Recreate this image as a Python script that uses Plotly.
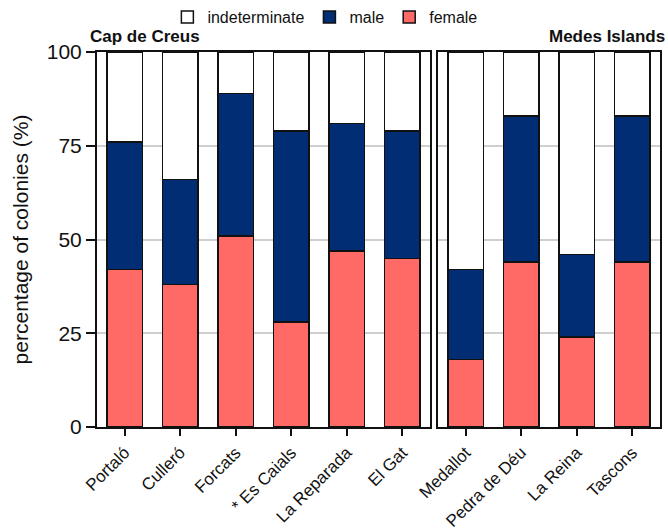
import plotly.graph_objects as go
from plotly.subplots import make_subplots

# Sites per area
cap_sites = ["Portaló", "Culleró", "Forcats", "* Es Caials", "La Reparada", "El Gat"]
medes_sites = ["Medallot", "Pedra de Déu", "La Reina", "Tascons"]

# Percentage of colonies by sex
cap_female = [42, 38, 51, 28, 47, 45]
cap_male = [34, 28, 38, 51, 34, 34]
cap_indet = [24, 34, 11, 21, 19, 21]

medes_female = [18, 44, 24, 44]
medes_male = [24, 39, 22, 39]
medes_indet = [58, 17, 54, 17]

y_ticks = [0, 25, 50, 75, 100]

FEMALE = "#FF6A66"
MALE = "#002D73"
INDET = "#FFFFFF"
FONT = "Liberation Sans, Arial, sans-serif"

fig = make_subplots(rows=1, cols=2, column_widths=[6, 4],
                    shared_yaxes=False, horizontal_spacing=0.014)

series = [
    ("female", FEMALE, cap_female, medes_female),
    ("male", MALE, cap_male, medes_male),
    ("indeterminate", INDET, cap_indet, medes_indet),
]

for name, color, cap_vals, medes_vals in series:
    for col, sites, vals in ((1, cap_sites, cap_vals), (2, medes_sites, medes_vals)):
        fig.add_trace(go.Bar(
            x=sites, y=vals, name=name, legendgroup=name,
            showlegend=(col == 1),
            marker=dict(color=color, line=dict(color="#111111", width=1.5)),
            width=0.64,
        ), row=1, col=col)

fig.update_layout(
    barmode="stack",
    width=668, height=530,
    margin=dict(l=97, r=8, t=52, b=103, autoexpand=False),
    plot_bgcolor="white", paper_bgcolor="white",
    font=dict(family=FONT, color="#111111"),
    legend=dict(orientation="h", traceorder="reversed",
                x=0.125, xanchor="left", y=1.0, yanchor="top",
                yref="container", font=dict(size=16),
                itemwidth=30, bgcolor="rgba(0,0,0,0)"),
)

for col in (1, 2):
    fig.update_xaxes(row=1, col=col, showline=True, linecolor="#111111", linewidth=2,
                     mirror=True, ticks="outside", ticklen=7, tickwidth=2,
                     tickcolor="#111111", tickangle=-45, automargin=False,
                     tickfont=dict(size=17, family=FONT), showgrid=False)
    fig.update_yaxes(row=1, col=col, range=[0, 100], tickvals=y_ticks,
                     showline=True, linecolor="#111111", linewidth=2, mirror=True,
                     showgrid=True, gridcolor="#cfcfcf", gridwidth=1.5,
                     zeroline=False, automargin=False)

fig.update_yaxes(row=1, col=1, ticks="outside", ticklen=9, tickwidth=2,
                 tickcolor="#111111", tickfont=dict(size=21, family=FONT),
                 title=dict(text="percentage of colonies (%)",
                            font=dict(size=21, family=FONT), standoff=12))
fig.update_yaxes(row=1, col=2, showticklabels=False, ticks="")

fig.add_annotation(text="<b>Cap de Creus</b>", xref="paper", yref="paper",
                   x=-0.016, y=1.01, xanchor="left", yanchor="bottom",
                   showarrow=False, font=dict(size=17, family=FONT))
fig.add_annotation(text="<b>Medes Islands</b>", xref="paper", yref="paper",
                   x=1.012, y=1.01, xanchor="right", yanchor="bottom",
                   showarrow=False, font=dict(size=17, family=FONT))

fig.write_html("out.html")
